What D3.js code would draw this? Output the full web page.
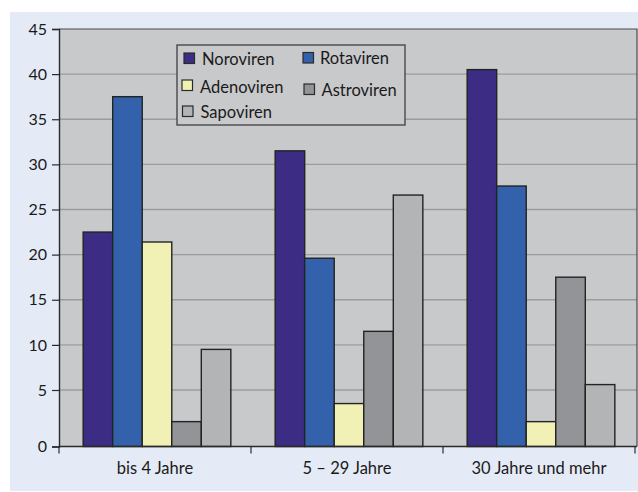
<!DOCTYPE html>
<html>
<head>
<meta charset="utf-8">
<script src="https://cdn.jsdelivr.net/npm/d3@7"></script>
<style>
  html, body { margin: 0; padding: 0; background: #ffffff; }
  svg { display: block; font-family: Lato, "Open Sans", sans-serif; }
</style>
</head>
<body>
<svg id="chart" width="638" height="492"></svg>
<script>
// Age groups and virus types
const categories = ["bis 4 Jahre", "5 \u2013 29 Jahre", "30 Jahre und mehr"];
const seriesNames = ["Noroviren", "Rotaviren", "Adenoviren", "Astroviren", "Sapoviren"];
const seriesColors = ["#3c2c84", "#3461ab", "#f1f1b6", "#939497", "#b3b4b6"];

// Share per age group (%), one array per virus type
const noroviren  = [22.5, 31.5, 40.5];
const rotaviren  = [37.5, 19.6, 27.6];
const adenoviren = [21.4, 3.8, 2.2];
const astroviren = [2.2, 11.5, 17.5];
const sapoviren  = [9.5, 26.6, 5.6];
const seriesValues = [noroviren, rotaviren, adenoviren, astroviren, sapoviren];

const yTicks = [0, 5, 10, 15, 20, 25, 30, 35, 40, 45];

const svg = d3.select("#chart");

// Panel background
svg.append("rect").attr("x", 10).attr("y", 12).attr("width", 628).attr("height", 479)
  .attr("fill", "#e5ebf6");

const plot = { left: 59, top: 29, right: 637, bottom: 446.5 };

// Value axis: the 0–5 band is drawn taller than the others
const y = d3.scaleLinear().domain([0, 5, 45]).range([plot.bottom, 390, plot.top]);

const x0 = d3.scaleBand().domain(categories).range([plot.left, 635]).padding(0);
const x1 = d3.scaleBand().domain(seriesNames)
  .range([2, x0.bandwidth() + 2]).paddingInner(0).paddingOuter(0.75);

// Plot area
svg.append("rect")
  .attr("x", plot.left).attr("y", plot.top)
  .attr("width", plot.right - plot.left).attr("height", plot.bottom - plot.top)
  .attr("fill", "#c8c9cb");

// Gridlines
svg.append("g").selectAll("line")
  .data(yTicks.filter(d => d > 0 && d < 45))
  .join("line")
  .attr("x1", plot.left).attr("x2", plot.right)
  .attr("y1", d => y(d)).attr("y2", d => y(d))
  .attr("stroke", "#9b9c9e").attr("stroke-width", 1.3);

// Top and right border
svg.append("path")
  .attr("d", `M${plot.left},${plot.top}H${plot.right}V${plot.bottom}`)
  .attr("fill", "none").attr("stroke", "#4a4a4c").attr("stroke-width", 1.2);

// Bars
const rows = [];
categories.forEach((c, i) => {
  seriesNames.forEach((s, j) => rows.push({ cat: c, series: s, value: seriesValues[j][i], color: seriesColors[j] }));
});

svg.append("g").selectAll("rect")
  .data(rows)
  .join("rect")
  .attr("x", d => x0(d.cat) + x1(d.series))
  .attr("y", d => y(d.value))
  .attr("width", x1.bandwidth())
  .attr("height", d => y(0) - y(d.value))
  .attr("fill", d => d.color)
  .attr("stroke", "#232323").attr("stroke-width", 1.4);

// Y axis
const yAxis = svg.append("g")
  .attr("transform", `translate(${plot.left},0)`)
  .call(d3.axisLeft(y).tickValues(yTicks).tickSize(7).tickPadding(5).tickFormat(d3.format("d")));
yAxis.select(".domain").attr("stroke", "#2a2a2a").attr("stroke-width", 1.4);
yAxis.selectAll(".tick line").attr("stroke", "#2a2a2a").attr("stroke-width", 1.2);
yAxis.selectAll(".tick text")
  .attr("font-family", "Lato, 'Open Sans', sans-serif")
  .attr("font-size", 16).attr("fill", "#1a1a1a");

// X axis
const xAxis = svg.append("g")
  .attr("transform", `translate(0,${plot.bottom})`)
  .call(d3.axisBottom(x0).tickSize(0).tickPadding(16));
xAxis.select(".domain").attr("stroke", "#2a2a2a").attr("stroke-width", 1.4)
  .attr("d", `M${plot.left},0H${plot.right}`);
xAxis.selectAll(".tick text")
  .attr("font-family", "Lato, 'Open Sans', sans-serif")
  .attr("font-size", 16.5).attr("fill", "#1a1a1a");

// Category separators on the x axis
const bounds = categories.map(c => x0(c)).concat([x0.range()[1]]);
xAxis.selectAll(".sep")
  .data(bounds)
  .join("line")
  .attr("class", "sep")
  .attr("x1", d => d).attr("x2", d => d)
  .attr("y1", 0).attr("y2", 7)
  .attr("stroke", "#2a2a2a").attr("stroke-width", 1.2);

// Legend
const legendItems = [
  { name: seriesNames[0], color: seriesColors[0], sx: 184, sy: 53, tx: 202, ty: 65 },
  { name: seriesNames[1], color: seriesColors[1], sx: 303, sy: 52.5, tx: 320, ty: 64 },
  { name: seriesNames[2], color: seriesColors[2], sx: 182, sy: 80, tx: 200, ty: 93 },
  { name: seriesNames[3], color: seriesColors[3], sx: 304, sy: 84, tx: 321.5, ty: 95.5 },
  { name: seriesNames[4], color: seriesColors[4], sx: 182.5, sy: 106, tx: 200.5, ty: 117.5 }
];

const legend = svg.append("g");
legend.append("rect")
  .attr("x", 177).attr("y", 45).attr("width", 228).attr("height", 80)
  .attr("fill", "#c8c9cb").attr("stroke", "#3f3f41").attr("stroke-width", 1.3);

const li = legend.selectAll("g.item").data(legendItems).join("g").attr("class", "item");
li.append("rect")
  .attr("x", d => d.sx).attr("y", d => d.sy)
  .attr("width", 10.5).attr("height", 10.5)
  .attr("fill", d => d.color).attr("stroke", "#2a2a2a").attr("stroke-width", 1.2);
li.append("text")
  .attr("x", d => d.tx).attr("y", d => d.ty)
  .attr("font-size", 16.5).attr("fill", "#1a1a1a")
  .text(d => d.name);
</script>
</body>
</html>
